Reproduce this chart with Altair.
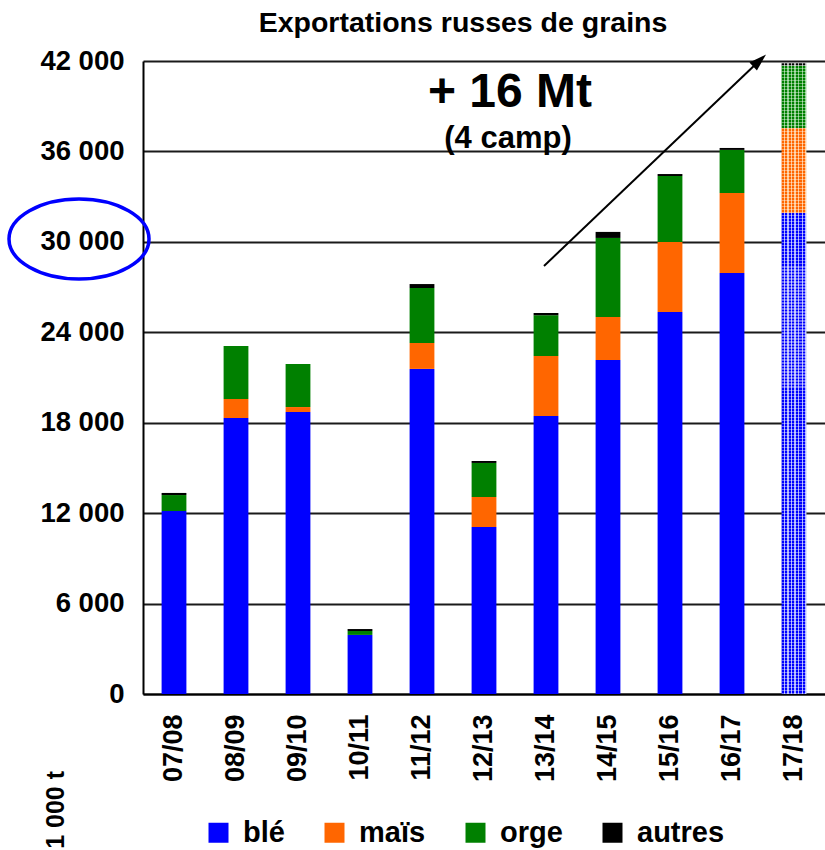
import altair as alt
import pandas as pd

FONT = "Liberation Sans, Arial, Helvetica, sans-serif"

campagnes = ["07/08", "08/09", "09/10", "10/11", "11/12", "12/13",
             "13/14", "14/15", "15/16", "16/17", "17/18"]
ble    = [12140, 18310, 18710, 3920, 21570, 11080, 18450, 22160, 25350, 27940, 31920]
mais   = [0, 1260, 330, 0, 1720, 1990, 3980, 2860, 4640, 5300, 5640]
orge   = [1060, 3520, 2860, 260, 3650, 2260, 2700, 5240, 4380, 2860, 4140]
autres = [140, 0, 0, 130, 260, 130, 150, 400, 130, 130, 150]

cultures = ["blé", "maïs", "orge", "autres"]
couleurs = ["#0000FF", "#FF6600", "#008000", "#000000"]
teintes = ["#a8aeff", "#ffc690", "#86c886", "#a8a8a8"]
derniere = "17/18"

rows = []
for serie, nom in zip([ble, mais, orge, autres], cultures):
    for c, v in zip(campagnes, serie):
        rows.append({"campagne": c, "culture": nom, "valeur": v,
                     "rang": cultures.index(nom)})
df = pd.DataFrame(rows)

W, H = 682, 633

x_enc = alt.X(
    "campagne:N", sort=campagnes,
    scale=alt.Scale(domain=campagnes, paddingInner=0.6, paddingOuter=0.3),
    axis=alt.Axis(title=None, labelAngle=270, labelFont=FONT, labelFontSize=27,
                  labelFontWeight="bold", labelColor="black", ticks=False,
                  labelPadding=20, domainColor="black", domainWidth=2),
)
y_scale = alt.Scale(domain=[0, 42000], nice=False)
y_axis = alt.Axis(title=None, values=list(range(0, 42001, 6000)),
                  labelExpr="replace(format(datum.value, ','), ',', ' ')",
                  ticks=False, labelPadding=19, labelFont=FONT,
                  labelFontSize=27.5, labelFontWeight="bold", labelColor="black",
                  grid=True, gridColor="#1a1a1a", gridWidth=2,
                  domainColor="black", domainWidth=2)

bars = alt.Chart(df).transform_filter(
    alt.datum.campagne != derniere
).mark_bar().encode(
    x=x_enc,
    y=alt.Y("valeur:Q", stack="zero", scale=y_scale, axis=y_axis),
    color=alt.Color(
        "culture:N",
        scale=alt.Scale(domain=cultures, range=couleurs),
        legend=alt.Legend(title=None, orient="none", legendX=61, legendY=757,
                          direction="horizontal", columns=4, symbolType="square",
                          symbolSize=400, symbolStrokeWidth=0, labelFont=FONT,
                          labelFontSize=29, labelFontWeight="bold",
                          labelColor="black", labelOffset=10, columnPadding=35,
                          padding=0, labelLimit=0),
    ),
    order=alt.Order("rang:Q", sort="ascending"),
)


def stripes_v(col, light, n=7):
    stops = []
    for k in range(n):
        a, b, c = k / n, (k + 0.62) / n, (k + 1) / n
        stops += [alt.GradientStop(offset=a, color=col),
                  alt.GradientStop(offset=b, color=col),
                  alt.GradientStop(offset=b, color=light),
                  alt.GradientStop(offset=c, color=light)]
    return alt.LinearGradient(gradient="linear", stops=stops, x1=0, x2=1, y1=0, y2=0)


def stripes_h(n=210):
    stops = []
    clear, white = "rgba(255,255,255,0)", "rgba(255,255,255,0.4)"
    for k in range(n):
        a, b, c = k / n, (k + 0.62) / n, (k + 1) / n
        stops += [alt.GradientStop(offset=a, color=clear),
                  alt.GradientStop(offset=b, color=clear),
                  alt.GradientStop(offset=b, color=white),
                  alt.GradientStop(offset=c, color=white)]
    return alt.LinearGradient(gradient="linear", stops=stops, x1=0, x2=0, y1=0, y2=1)


pattern_layers = []
for nom, col, light in zip(cultures, couleurs, teintes):
    layer = alt.Chart(df).transform_filter(
        alt.datum.campagne == derniere
    ).transform_stack(
        stack="valeur", groupby=["campagne"], as_=["y0", "y1"],
        sort=[alt.SortField("rang", order="ascending")],
    ).transform_filter(
        alt.datum.culture == nom
    ).mark_bar(fill=stripes_v(col, light), strokeWidth=0).encode(
        x=x_enc,
        y=alt.Y("y0:Q", scale=y_scale, axis=y_axis),
        y2="y1:Q",
    )
    pattern_layers.append(layer)

overlay = alt.Chart(df).transform_filter(
    alt.datum.campagne == derniere
).mark_bar(fill=stripes_h(), strokeWidth=0).encode(
    x=x_enc,
    y=alt.Y("sum(valeur):Q", scale=y_scale, axis=y_axis),
)


def texte(s, x, y, size, align="center", angle=0, baseline="alphabetic"):
    return alt.Chart(pd.DataFrame({"t": [s]})).mark_text(
        font=FONT, fontSize=size, fontWeight="bold", align=align,
        baseline=baseline, angle=angle, color="black",
    ).encode(text="t:N", x=alt.value(x), y=alt.value(y))


titre = texte("Exportations russes de grains", 320, -29, 28.5)
gros = texte("+ 16 Mt", 367, 46, 48)
camp = texte("(4 camp)", 365, 87, 31)
unite = texte("1 000 t", -87, 710, 25, align="right", angle=270, baseline="middle")

one = pd.DataFrame({"a": [0]})
fleche = alt.Chart(one).mark_rule(color="black", strokeWidth=2).encode(
    x=alt.value(401), y=alt.value(205), x2=alt.value(615), y2=alt.value(1)
)
pointe = alt.Chart(one).mark_point(
    shape="M 0 -1 L 0.5 0.6 L -0.5 0.6 Z", filled=True, color="black",
    size=484, angle=47, opacity=1,
).encode(x=alt.value(615), y=alt.value(1))

ellipse_path = ("M 1 0 C 1 0.3154 0.5523 0.571 0 0.571 "
                "C -0.5523 0.571 -1 0.3154 -1 0 "
                "C -1 -0.3154 -0.5523 -0.571 0 -0.571 "
                "C 0.5523 -0.571 1 -0.3154 1 0 Z")
ellipse = alt.Chart(one).mark_point(
    shape=ellipse_path, filled=False, stroke="#0000FF", strokeWidth=3.5,
    size=19600, opacity=1,
).encode(x=alt.value(-64), y=alt.value(178))

chart = alt.layer(
    bars, *pattern_layers, overlay, titre, gros, camp, unite, fleche, pointe, ellipse
).properties(
    width=W, height=H,
    padding={"left": 143, "top": 61, "right": 0, "bottom": 156},
    autosize=alt.AutoSizeParams(type="none"),
    background="white",
).configure_view(strokeWidth=0)

chart.save("out.html", embed_options={"renderer": "svg", "actions": False})
